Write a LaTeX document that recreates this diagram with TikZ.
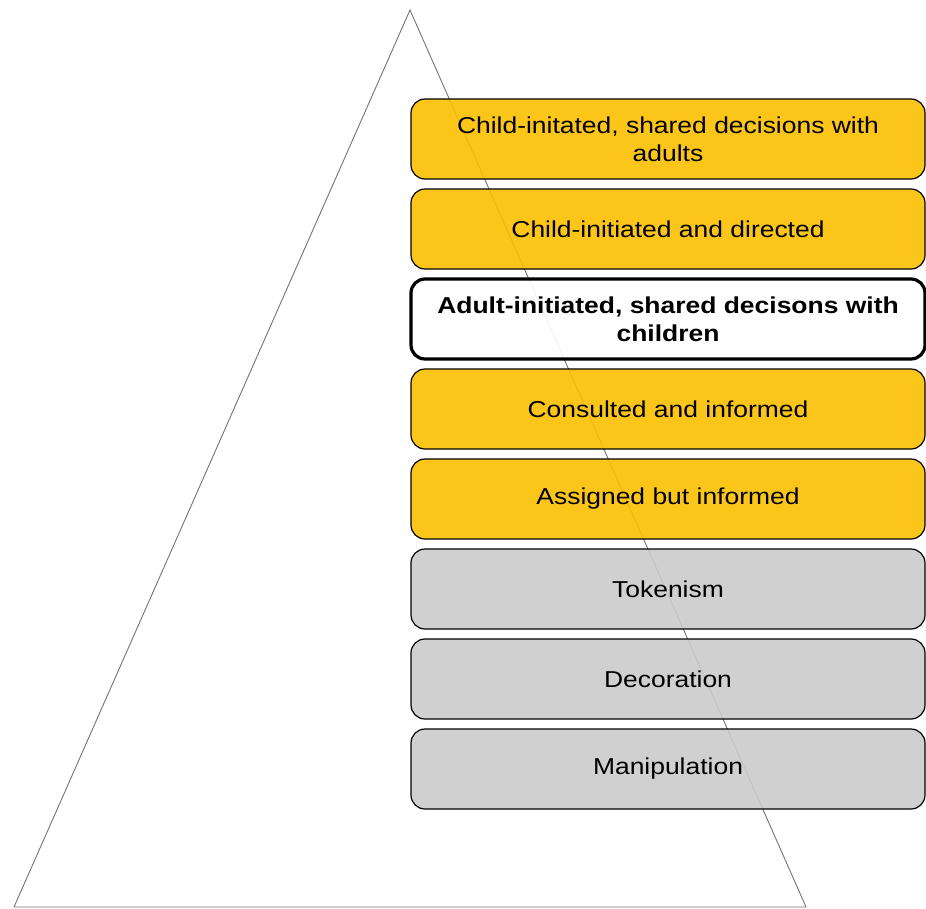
\documentclass[tikz,border=0pt]{standalone}
\usepackage{fontspec}
\setmainfont{Liberation Sans}[FakeStretch=1.15]
\usepackage{xcolor}
\definecolor{rungyellow}{RGB}{252,191,1}
\definecolor{runggrey}{RGB}{203,203,203}
\tikzset{rung/.style={draw=black, line width=1.2pt, rounded corners=14pt, fill opacity=0.9, text opacity=1, minimum width=514pt, minimum height=80pt, inner sep=0pt, outer sep=0pt, align=center, font=\fontsize{23}{28}\selectfont}}
\tikzset{ladder/.style={draw=black!55, line width=0.9pt}}

\begin{document}
\begin{tikzpicture}[x=1pt,y=-1pt]
    \useasboundingbox (0,0) rectangle (926,908);

    % the pyramid sits behind the rungs
    \draw[ladder] (410,10) -- (806,907) -- (14,907) -- cycle;

    \node[rung, fill=rungyellow, anchor=north] at (668,99) (r1){Child-initated, shared decisions with\\adults};
    \node[rung, fill=rungyellow, anchor=north] at ([yshift = -10pt]r1.south) (r2){Child-initiated and directed};
    \node[rung, fill=white, line width=3.2pt, anchor=north, font=\fontsize{23}{28}\selectfont\bfseries] at ([yshift = -10pt]r2.south) (r3){Adult-initiated, shared decisons with\\children};
    \node[rung, fill=rungyellow, anchor=north] at ([yshift = -10pt]r3.south) (r4){Consulted and informed};
    \node[rung, fill=rungyellow, anchor=north] at ([yshift = -10pt]r4.south) (r5){Assigned but informed};
    \node[rung, fill=runggrey, anchor=north] at ([yshift = -10pt]r5.south) (r6){Tokenism};
    \node[rung, fill=runggrey, anchor=north] at ([yshift = -10pt]r6.south) (r7){Decoration};
    \node[rung, fill=runggrey, anchor=north] at ([yshift = -10pt]r7.south) (r8){Manipulation};
\end{tikzpicture}
\end{document}
